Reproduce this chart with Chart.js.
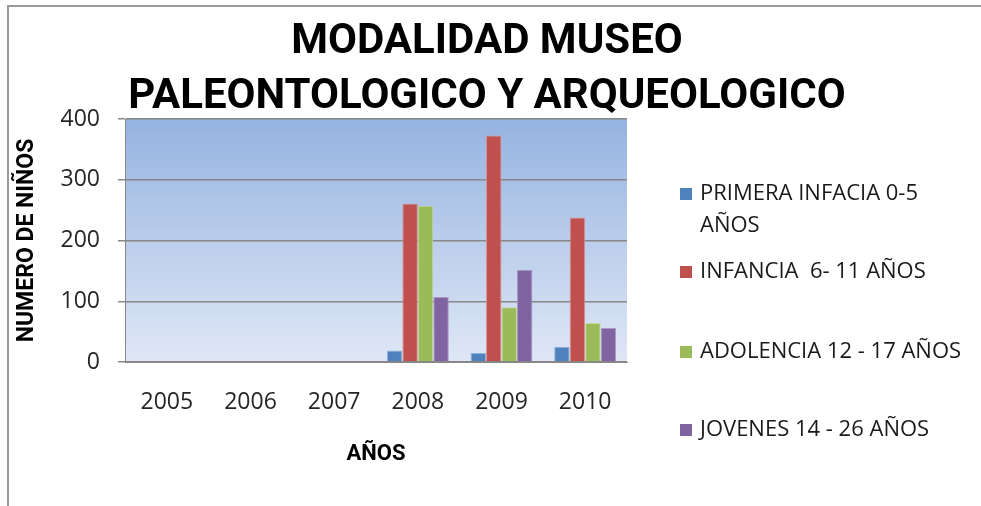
<!doctype html>
<html>
<head>
	<meta charset="utf-8">
	<title>Modalidad Museo Paleontologico y Arqueologico</title>
	<script src="https://cdn.jsdelivr.net/npm/chart.js@4.4.1/dist/chart.umd.min.js"></script>
	<style>
	html, body { margin: 0; padding: 0; background: #fff; }
	canvas { display: block; }
	</style>
</head>
<body>
	<canvas id="canvas" width="981" height="506"></canvas>
	<script>
		// data
		var years = ['2005', '2006', '2007', '2008', '2009', '2010'];
		var seriesNames = [['PRIMERA INFACIA 0-5', 'AÑOS'], ['INFANCIA  6- 11 AÑOS'], ['ADOLENCIA 12 - 17 AÑOS'], ['JOVENES 14 - 26 AÑOS']];
		var primeraInfancia = [0, 0, 0, 19, 15, 25];
		var infancia = [0, 0, 0, 261, 373, 238];
		var adolescencia = [0, 0, 0, 257, 90, 64];
		var jovenes = [0, 0, 0, 107, 152, 56];
		var titleLines = ['MODALIDAD MUSEO', 'PALEONTOLOGICO Y ARQUEOLOGICO'];
		var yTitle = 'NUMERO DE NIÑOS';
		var xTitle = 'AÑOS';

		var colors = ['#4f81bd', '#c0504d', '#9bbb59', '#8064a2'];
		var edges = ['#8fb0dc', '#d9908e', '#c3d99a', '#ab98c6'];
		var seriesValues = [primeraInfancia, infancia, adolescencia, jovenes];

		var gridColor = '#878787';
		var textFont = '"Open Sans", sans-serif';
		var boldFont = 'Roboto, sans-serif';

		var datasets = seriesValues.map(function(vals, i) {
			return {
				label: seriesNames[i].join(' '),
				data: vals,
				backgroundColor: colors[i],
				borderColor: edges[i],
				borderWidth: 1,
				barPercentage: 1,
				categoryPercentage: 0.74
			};
		});

		// plot area gradient + frame, title and legend drawn on the canvas
		var decor = {
			id: 'decor',
			beforeDraw: function(chart) {
				var ctx = chart.ctx, a = chart.chartArea;
				var g = ctx.createLinearGradient(0, a.top, 0, a.bottom);
				g.addColorStop(0, '#95b3e1');
				g.addColorStop(1, '#dfe7f5');
				ctx.save();
				ctx.fillStyle = g;
				ctx.fillRect(a.left, a.top, a.right - a.left, a.bottom - a.top);
				ctx.restore();
			},
			afterDraw: function(chart) {
				var ctx = chart.ctx;
				ctx.save();
				// outer frame
				ctx.strokeStyle = '#9a9a9a';
				ctx.lineWidth = 2;
				ctx.beginPath();
				ctx.moveTo(8, 506);
				ctx.lineTo(8, 6);
				ctx.lineTo(981, 6);
				ctx.stroke();

				// title
				ctx.fillStyle = '#000';
				ctx.font = 'bold 42px ' + boldFont;
				ctx.textAlign = 'center';
				ctx.textBaseline = 'alphabetic';
				ctx.fillText(titleLines[0], 487, 53);
				ctx.fillText(titleLines[1], 487, 108);

				// legend
				var rows = [194, 272, 352, 430];
				ctx.font = '22px ' + textFont;
				ctx.textAlign = 'left';
				ctx.textBaseline = 'middle';
				chart.data.datasets.forEach(function(ds, i) {
					var y = rows[i];
					ctx.fillStyle = ds.backgroundColor;
					ctx.fillRect(680, y - 6, 12, 12);
					ctx.fillStyle = '#1a1a1a';
					seriesNames[i].forEach(function(line, k) {
						ctx.fillText(line, 700, y + k * 32);
					});
				});
				ctx.restore();
			}
		};

		window.onload = function() {
			var ctx = document.getElementById('canvas').getContext('2d');
			window.myBar = new Chart(ctx, {
				type: 'bar',
				data: { labels: years, datasets: datasets },
				plugins: [decor],
				options: {
					responsive: false,
					animation: false,
					layout: { padding: { top: 119, right: 354, left: 0, bottom: 0 } },
					plugins: {
						legend: { display: false },
						title: { display: false },
						tooltip: { enabled: false }
					},
					scales: {
						x: {
							grid: { display: false, drawTicks: false },
							border: { display: true, color: gridColor, width: 1 },
							ticks: { font: { family: textFont, size: 23 }, color: '#262626', padding: 27 },
							title: {
								display: true, text: xTitle, color: '#000',
								font: { family: boldFont, size: 22, weight: 'bold' },
								padding: { bottom: 38 }
							},
							afterFit: function(scale) { scale.height = 144; }
						},
						y: {
							min: 0, max: 400,
							ticks: { stepSize: 100, font: { family: textFont, size: 23 }, color: '#262626', padding: 18 },
							grid: { color: gridColor, lineWidth: 1.5, tickLength: 7, drawTicks: true },
							border: { display: true, color: gridColor, width: 1 },
							title: {
								display: true, text: yTitle, color: '#000',
								font: { family: boldFont, size: 23, weight: 'bold' },
								padding: { top: 13 }
							},
							afterFit: function(scale) { scale.width = 125; }
						}
					}
				}
			});
		};
	</script>
</body>
</html>
